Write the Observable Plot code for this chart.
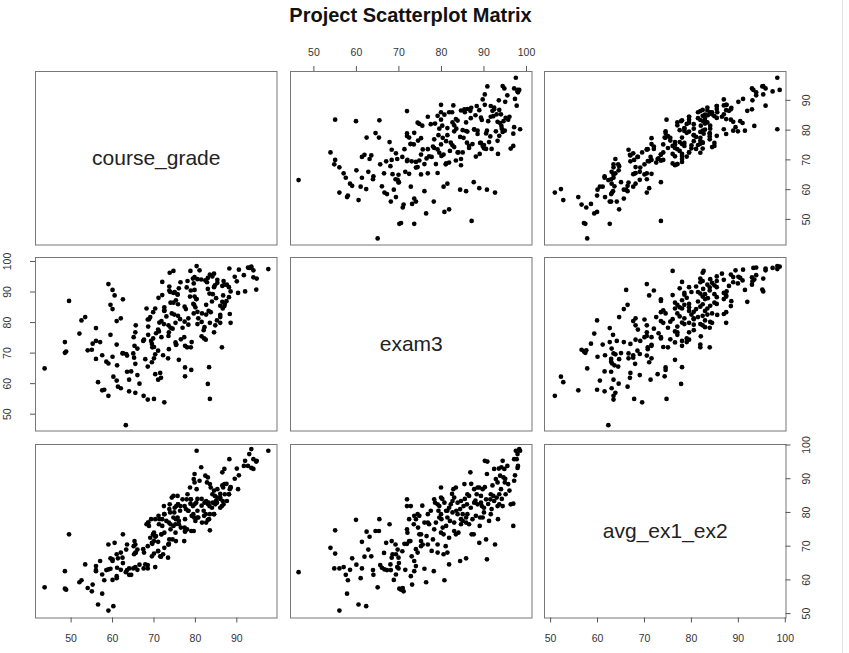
<!DOCTYPE html>
<html>
<head>
<meta charset="utf-8">
<script src="https://cdn.jsdelivr.net/npm/d3@7"></script>
<script src="https://cdn.jsdelivr.net/npm/@observablehq/plot@0.6"></script>
<style>
  html, body { margin: 0; padding: 0; background: #fff; }
  #chart { position: relative; width: 849px; height: 653px; overflow: hidden; font-family: "Liberation Sans", Arial, sans-serif; }
  #title { position: absolute; left: 0; width: 821px; top: 5px; text-align: center; font-weight: bold; font-size: 20px; line-height: 20px; color: #111; }
  #edge { position: absolute; left: 842px; top: 0; width: 1px; height: 653px; background: #e4e4e4; }
</style>
</head>
<body>
<div id="chart"><div id="title">Project Scatterplot Matrix</div><div id="edge"></div></div>
<script>
const varNames = ["course_grade", "exam3", "avg_ex1_ex2"];

const courseGrade = [
63.2,72.5,70,83.5,68.5,67.5,65.5,58,57.5,59,
61.3,83,56.5,60.2,71,64,71.7,77.5,70.3,79,
77.5,83.3,63.5,43.6,68.5,61.1,59,58.5,67.9,56,
76,70,63.5,70.3,65,65.2,73.4,62.4,57.5,48.5,
48.8,54,55,73.6,69.6,65.3,78,77.5,78.9,86.4,
75.4,79.1,69.3,82.5,75.2,69.8,77.3,65.1,73.5,67.6,
57,56,48.5,61,55.2,75.3,59.5,52,73.6,84.5,
71.2,71,56,68.6,84.8,78.3,65.6,88.5,86,83.5,
71.3,77.4,71.8,52.5,61,68.8,80.7,62,53.4,76.3,
86,75.8,82.6,74.3,88.3,83.7,69.8,79.6,72.5,83.2,
77.7,60,70.3,80,77.4,87,82.6,75.8,59.5,79.5,
74.7,86.5,84,49.5,62.5,80.2,80.3,88.1,78.7,86.7,
75.7,60.5,75.7,83.4,74.7,90.3,75,92,73.7,79.8,
60,94.7,76,77.9,88.1,73.7,84.7,87,59,79.6,
85.3,82.8,72,86.8,82.4,85.3,81.4,94.8,79.4,83,
94,79.8,91.7,83.5,73.8,78.8,74.7,97.6,93,92.7,
93.5,80.3,88.2,93.5,81,76.9,82.2,72.4,85.2,78.3,
74.9,86.6,72.5,79.7,75.3,71.1,84.2,78.9,87.6,78.1,
84.1,68.6,82.1,74,69.1,81.6,65.5,73.5,71.8,63.3,
72.2,67.4,84.5,73.9,75.2,68.2,87.1,79.8,76.4,94,
62,66.5,61,71.5,64.5,65.5,69.5,60,62.5,71,
66,70,69.5,76.5,81.5,70.5,82,74.5,80.5,81.5,
68.5,73,86,80.5,72.5,86,74,87.5,85,72,
88.5,83,86.5,90,80.5,89.5,84.5,90.5,66,64
];

const exam3 = [
46.4,53.9,55.0,55.0,54.8,56.0,57.0,58.0,57.8,56.0,
59.0,59.9,60.5,62.3,61.3,61.3,61.9,62.4,63.1,64.5,
65.3,65.4,63.9,65.0,65.6,66.0,66.6,67.2,68.0,68.1,
67.8,68.3,69.2,69.6,69.9,68.5,68.3,69.9,69.3,70.1,
70.5,70.9,71.1,71.3,71.9,72.4,71.9,72.4,71.9,71.9,
72.8,73.6,74.0,74.4,73.5,74.8,75.2,75.2,75.6,74.4,
73.6,74.0,73.6,72.8,73.1,72.7,76.0,76.4,76.8,76.8,
77.1,77.7,78.2,78.7,79.1,79.3,79.1,79.9,79.9,79.9,
80.0,80.3,80.5,80.7,80.5,81.1,81.4,81.4,81.8,81.1,
81.8,82.2,82.6,83.0,82.8,83.4,83.4,83.0,83.8,83.8,
84.4,84.4,84.6,85.0,85.2,85.4,85.8,86.0,85.8,86.1,
86.5,86.8,86.9,87.1,87.6,87.7,87.7,88.3,88.5,88.9,
89.1,88.9,89.3,89.5,89.7,89.7,90.0,90.2,90.5,90.7,
90.7,90.8,91.2,91.5,91.6,91.8,92.2,92.4,92.6,92.8,
93.0,93.2,93.3,93.6,93.8,94.0,94.1,94.4,94.4,94.6,
94.8,94.9,95.5,95.7,96.3,96.9,96.9,97.5,97.9,98.0,
98.3,98.5,97.7,97.9,97.1,78.3,78.5,79.5,80.7,81.4,
82.6,84.6,85.0,85.8,87.3,88.1,89.3,90.5,92.4,93.6,
95.1,76.0,74.8,78.3,81.8,83.0,76.8,79.1,75.2,69.7,
69.3,74.0,91.6,90.0,79.9,84.6,86.1,88.5,93.2,97.1,
58.5,60.0,61.0,63.5,64.0,66.5,67.0,68.8,70.0,70.8,
71.5,72.0,73.0,74.5,75.5,76.5,77.5,78.0,79.5,80.2,
81.0,82.0,82.5,83.5,84.0,85.5,86.5,87.0,88.0,89.0,
90.2,91.0,92.0,93.5,94.2,95.0,96.0,97.3,62.8,57.5
];

const avgEx1Ex2 = [
62.3,69.5,67.8,74.7,63.4,63.4,63.8,59.9,55.9,50.9,
66.4,77.8,52.7,52.2,71.3,63.4,66.9,74.3,72.8,74.5,
74.5,78.0,62.9,57.8,64.4,63.6,63.1,62.9,64.6,62.9,
76.5,71.5,70.5,63.8,63.4,67.6,66.6,66.6,61.6,57.4,
57.1,57.6,56.6,70.7,70.7,71.5,75.0,78.0,83.9,81.9,
81.9,79.0,78.0,79.5,76.5,73.5,71.5,70.0,70.5,68.1,
65.6,64.1,62.6,61.1,58.6,71.5,63.3,59.3,77.0,79.5,
76.5,68.6,62.6,77.0,82.4,80.5,68.1,87.4,84.4,79.5,
78.0,75.5,73.5,59.9,67.6,76.0,78.5,68.1,64.6,80.5,
81.4,82.4,83.4,84.4,86.9,87.4,73.5,74.5,79.5,82.9,
81.0,65.6,78.0,77.5,81.9,88.4,77.0,82.4,66.4,79.5,
84.9,91.9,81.4,73.5,73.5,82.9,86.9,85.4,87.4,87.4,
78.5,71.0,84.9,81.9,78.5,86.9,81.4,95.3,72.0,91.4,
66.1,95.1,77.5,83.9,85.4,81.0,84.9,92.9,70.5,89.9,
84.4,88.9,78.0,82.4,90.9,86.9,93.4,95.3,81.9,90.4,
92.9,88.9,93.8,88.4,82.4,82.6,76.0,98.3,97.3,93.8,
98.8,98.3,95.8,93.2,89.4,83.9,82.9,81.9,82.9,80.5,
80.0,83.4,79.5,78.5,78.0,79.0,82.9,83.9,83.4,85.4,
85.4,77.0,79.0,75.0,72.5,77.0,70.5,70.5,73.5,69.0,
67.6,69.1,79.5,80.0,74.0,76.5,85.4,82.4,81.9,95.8,
63.0,64.5,60.5,67.0,61.5,68.0,71.0,60.0,65.0,68.5,
63.0,74.0,67.0,75.5,82.0,73.0,80.5,72.0,78.5,84.0,
70.0,77.5,85.5,80.5,74.0,84.0,76.5,88.5,83.5,76.0,
87.5,82.5,88.0,93.0,84.0,90.0,86.5,91.0,69.0,61.5
];

const courseTicks = [50, 60, 70, 80, 90];
const exam3Ticks = [50, 60, 70, 80, 90, 100];
const avgTicks = [50, 60, 70, 80, 90, 100];

const rows = courseGrade.map((c, i) => ({course_grade: c, exam3: exam3[i], avg_ex1_ex2: avgEx1Ex2[i]}));

const vars = [
  {name: varNames[0], domain: [41.4, 99.7], ticks: courseTicks},
  {name: varNames[1], domain: [44.5, 101.3], ticks: exam3Ticks},
  {name: varNames[2], domain: [48.7, 100.15], ticks: avgTicks}
];

const W = 241.5, H = 173.5, M = 40;
const colX = [35, 289.5, 544];
const rowY = [70.5, 257.3, 444.1];
const font = "'Liberation Sans', Arial, sans-serif";
const tickColor = "#555";
const labelColor = "#333";
const labelSize = 10.5;

const chart = document.getElementById("chart");

for (let i = 0; i < 3; i++) {
  for (let j = 0; j < 3; j++) {
    const xv = vars[j], yv = vars[i];
    const marks = [];
    if (i === j) {
      marks.push(Plot.text([xv.name], {frameAnchor: "middle", text: d => d, fontSize: 21, fill: "#222"}));
    } else {
      marks.push(Plot.dot(rows, {x: xv.name, y: yv.name, r: 2.35, fill: "black", stroke: "none"}));
    }
    marks.push(Plot.frame({stroke: "#777", strokeWidth: 1}));
    const top = (i === 0 && j === 1);
    const bottom = (i === 2 && (j === 0 || j === 2));
    const left = (j === 0 && i === 1);
    const right = (j === 2 && (i === 0 || i === 2));
    if (top) {
      marks.push(Plot.tickX(xv.ticks, {x: d => d, insetTop: -5, insetBottom: H, stroke: tickColor}));
      marks.push(Plot.text(xv.ticks, {x: d => d, frameAnchor: "top", dy: -19, text: d => String(d), fontSize: labelSize, fill: labelColor, lineAnchor: "middle"}));
    }
    if (bottom) {
      marks.push(Plot.tickX(xv.ticks, {x: d => d, insetTop: H, insetBottom: -5, stroke: tickColor}));
      marks.push(Plot.text(xv.ticks, {x: d => d, frameAnchor: "bottom", dy: 20.5, text: d => String(d), fontSize: labelSize, fill: labelColor, lineAnchor: "middle"}));
    }
    if (left) {
      marks.push(Plot.tickY(yv.ticks, {y: d => d, insetLeft: -5, insetRight: W, stroke: tickColor}));
      marks.push(Plot.text(yv.ticks, {y: d => d, frameAnchor: "left", dx: -27.5, rotate: -90, text: d => String(d), fontSize: labelSize, fill: labelColor, textAnchor: "middle", lineAnchor: "middle"}));
    }
    if (right) {
      marks.push(Plot.tickY(yv.ticks, {y: d => d, insetLeft: W, insetRight: -5, stroke: tickColor}));
      marks.push(Plot.text(yv.ticks, {y: d => d, frameAnchor: "right", dx: 20.5, rotate: -90, text: d => String(d), fontSize: labelSize, fill: labelColor, textAnchor: "middle", lineAnchor: "middle"}));
    }
    const svg = Plot.plot({
      width: W + 2 * M,
      height: H + 2 * M,
      margin: M,
      x: {type: "linear", domain: xv.domain, axis: null},
      y: {type: "linear", domain: yv.domain, axis: null},
      style: {background: "transparent", overflow: "visible", fontFamily: font},
      marks
    });
    svg.style.position = "absolute";
    svg.style.left = (colX[j] - M) + "px";
    svg.style.top = (rowY[i] - M) + "px";
    svg.style.maxWidth = "none";
    chart.appendChild(svg);
  }
}
</script>
</body>
</html>
